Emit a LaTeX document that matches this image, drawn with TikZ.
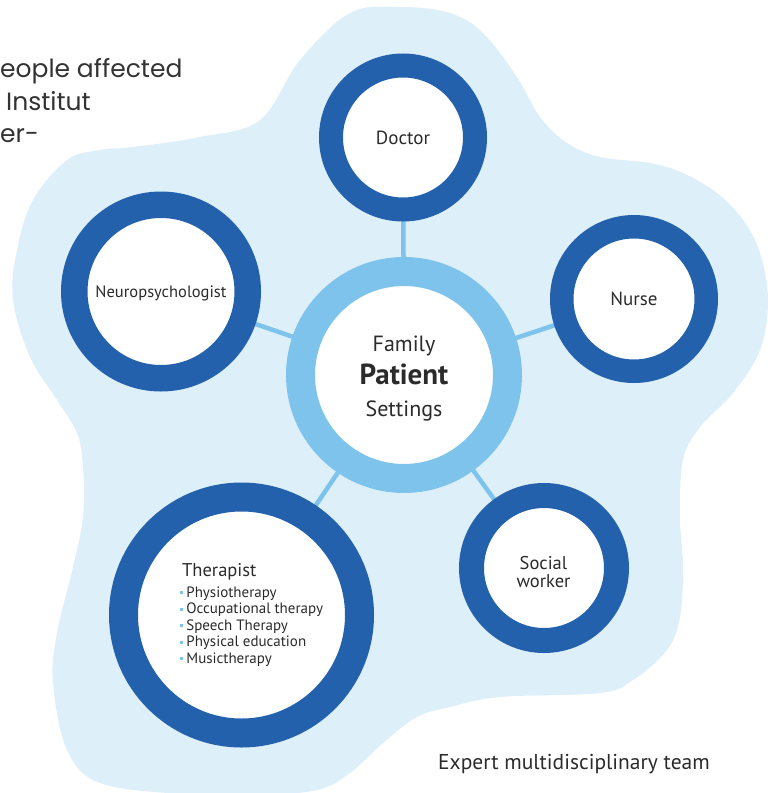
\documentclass[tikz,border=0pt]{standalone}
\usepackage{fontspec}
\setmainfont{PT Sans}
\newfontfamily\gothic{Poppins}
\definecolor{blobblue}{HTML}{DDEFF9}
\definecolor{ringdark}{HTML}{2461AC}
\definecolor{ringlight}{HTML}{7EC3EC}
\definecolor{linkblue}{HTML}{7EC3EC}
\definecolor{txt}{HTML}{2B2B2B}
\definecolor{gtxt}{HTML}{333333}
\pgfdeclarelayer{bg}
\pgfdeclarelayer{links}
\pgfsetlayers{bg,links,main}
\tikzset{
  ring/.style={circle, draw=ringdark, fill=white, inner sep=0pt, text=txt, text depth=0pt},
  link/.style={draw=linkblue, line width=4.5pt},
  lbl/.style={text=txt, inner sep=0pt, anchor=base},
  lblw/.style={text=txt, inner sep=0pt, anchor=base west},
  topl/.style={text=gtxt, inner sep=0pt, anchor=base west, font=\gothic\fontsize{25}{29}\selectfont},
}
\newcommand{\sqbul}{\textcolor{linkblue}{\raisebox{2.8pt}{\rule{2.8pt}{2.8pt}}}\hspace{3.4pt}}
\begin{document}
\begin{tikzpicture}[x=1pt,y=-1pt]
\useasboundingbox (0,0) rectangle (778,793);
% circles
\node[ring, draw=ringlight, minimum size=207pt, line width=29pt] (center) at (404,375) {};
\node[ring, minimum size=144pt, line width=24pt, font=\fontsize{19}{22}\selectfont] (doctor) at (403,137.5) {Doctor};
\node[ring, minimum size=144.5pt, line width=23.5pt, font=\fontsize{19}{22}\selectfont] (nurse) at (634,299) {Nurse};
\node[ring, minimum size=173.5pt, line width=26.5pt, font=\fontsize{16.5}{20}\selectfont] (neuro) at (161,291.5) {Neuropsychologist};
\node[ring, minimum size=145pt, line width=25pt] (social) at (544,568) {};
\node[ring, minimum size=236pt, line width=29pt] (therapist) at (241.5,615) {};
% labels
\node[lbl, font=\fontsize{22}{26}\selectfont] (family) at (404,351) {Family};
\node[lbl, font=\fontsize{29}{33}\selectfont\bfseries] (patient) at (404,384) {Patient};
\node[lbl, font=\fontsize{22}{26}\selectfont] (settings) at (404,416) {Settings};
\node[lbl, font=\fontsize{18.5}{21}\selectfont] (social1) at (543.5,569) {Social};
\node[lbl, font=\fontsize{18.5}{21}\selectfont] (social2) at (543.5,587) {worker};
\node[lblw, font=\fontsize{18.5}{22}\selectfont] (thtitle) at (182,576) {Therapist};
\node[lblw, font=\fontsize{15}{16}\selectfont] (th1) at (180,597) {\sqbul Physiotherapy};
\node[lblw, font=\fontsize{15}{16}\selectfont] (th2) at (180,613.5) {\sqbul Occupational therapy};
\node[lblw, font=\fontsize{15}{16}\selectfont] (th3) at (180,630) {\sqbul Speech Therapy};
\node[lblw, font=\fontsize{15}{16}\selectfont] (th4) at (180,646.5) {\sqbul Physical education};
\node[lblw, font=\fontsize{15}{16}\selectfont] (th5) at (180,663) {\sqbul Musictherapy};
\node[lblw, font=\fontsize{21.5}{24}\selectfont] (caption) at (438,769) {Expert multidisciplinary team};
% top-left text
\node[topl] (tl1) at (0,77) {eople affected};
\node[topl] (tl2) at (6,110) {Institut};
\node[topl] (tl3) at (0,142) {er-};
% links
\begin{pgfonlayer}{links}
\foreach \n in {doctor,nurse,neuro,social,therapist}
  \draw[link] (center.center) -- (\n.center);
\end{pgfonlayer}
% blob
\begin{pgfonlayer}{bg}
\fill[blobblue] plot[smooth cycle, tension=0.6] coordinates {
(400,7) (450,13) (483,33) (517,77) (540,117) (567,143) (600,157) (650,163) (683,173) (717,193) (743,220) (760,253) (768,300) (760,350) (733,393) (700,427) (683,460) (680,517) (683,567) (680,617) (667,650) (633,680) (600,693) (500,697) (450,707) (417,717) (383,743) (350,773) (317,790) (250,796) (180,794) (100,783) (67,750) (53,683) (57,633) (73,567) (83,517) (83,467) (77,433) (57,400) (30,357) (13,300) (17,250) (33,200) (67,160) (100,150) (133,147) (200,137) (260,120) (300,60) (350,13)};
\end{pgfonlayer}
\end{tikzpicture}
\end{document}
